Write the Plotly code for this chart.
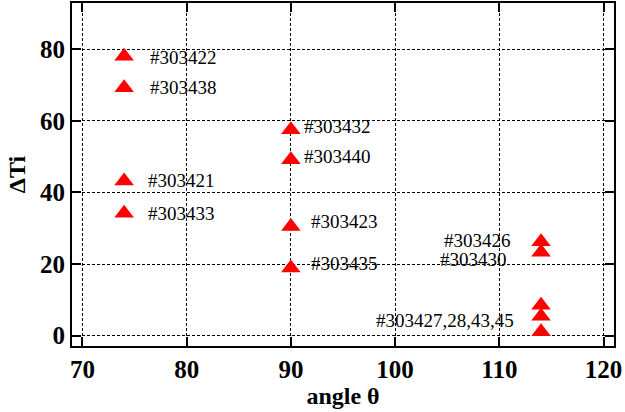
import plotly.graph_objects as go

# data
angle = [74, 74, 74, 74, 90, 90, 90, 90, 114, 114, 114, 114, 114]
dTi = [78, 69.2, 43.2, 34.2, 57.5, 49.1, 30.5, 18.9, 26.2, 23.3, 8.5, 5.4, 1.1]

label_text = ["#303422", "#303438", "#303421", "#303433", "#303432", "#303440",
              "#303423", "#303435", "#303426", "#303430", "#303427,28,43,45"]
label_x = [76.3, 76.3, 76.1, 76.1, 91.1, 91.1, 91.7, 91.7, 111.3, 110.9, 111.6]
label_y = [77.8, 69.2, 43.3, 34.2, 58.3, 49.9, 31.8, 20.1, 26.6, 21.4, 4.2]
label_anchor = ["left"] * 8 + ["right"] * 3

x_ticks = [70, 80, 90, 100, 110, 120]
y_ticks = [0, 20, 40, 60, 80]

font_family = "Liberation Serif"

fig = go.Figure()
fig.add_trace(go.Scatter(
    x=angle, y=dTi, mode="markers",
    marker=dict(symbol="triangle-up", size=17, color="#ff0000", line=dict(width=0)),
    showlegend=False, hoverinfo="skip",
))

for t, xx, yy, anc in zip(label_text, label_x, label_y, label_anchor):
    fig.add_annotation(x=xx, y=yy, text=t, showarrow=False, xanchor=anc, yanchor="middle",
                       font=dict(family=font_family, size=19, color="black"))

axis_common = dict(
    showline=True, linecolor="black", linewidth=2, mirror="ticks",
    ticks="inside", ticklen=9, tickwidth=1.5, tickcolor="black",
    showgrid=True, gridcolor="black", gridwidth=1, griddash="3px,2px",
    zeroline=False, automargin=False,
    tickfont=dict(family=font_family, size=25, color="black"),
)

fig.update_xaxes(range=[69, 121], tickvals=x_ticks,
                 ticktext=[f"<b>{v}</b>" for v in x_ticks],
                 title=dict(text="<b>angle θ</b>", font=dict(family=font_family, size=24, color="black"),
                            standoff=3),
                 **axis_common)
fig.update_yaxes(range=[-2.9, 92.9], tickvals=y_ticks,
                 ticktext=[f"<b>{v}</b>" for v in y_ticks],
                 title=dict(text="<b>ΔTi</b>", font=dict(family=font_family, size=24, color="black"),
                            standoff=8),
                 **axis_common)

fig.update_layout(
    width=625, height=412,
    margin=dict(l=72, r=11, t=3, b=66),
    plot_bgcolor="white", paper_bgcolor="white",
    font=dict(family=font_family, color="black"),
)

fig.write_html("out.html", config={"displayModeBar": False},
               post_script="document.body.style.margin='0';")
